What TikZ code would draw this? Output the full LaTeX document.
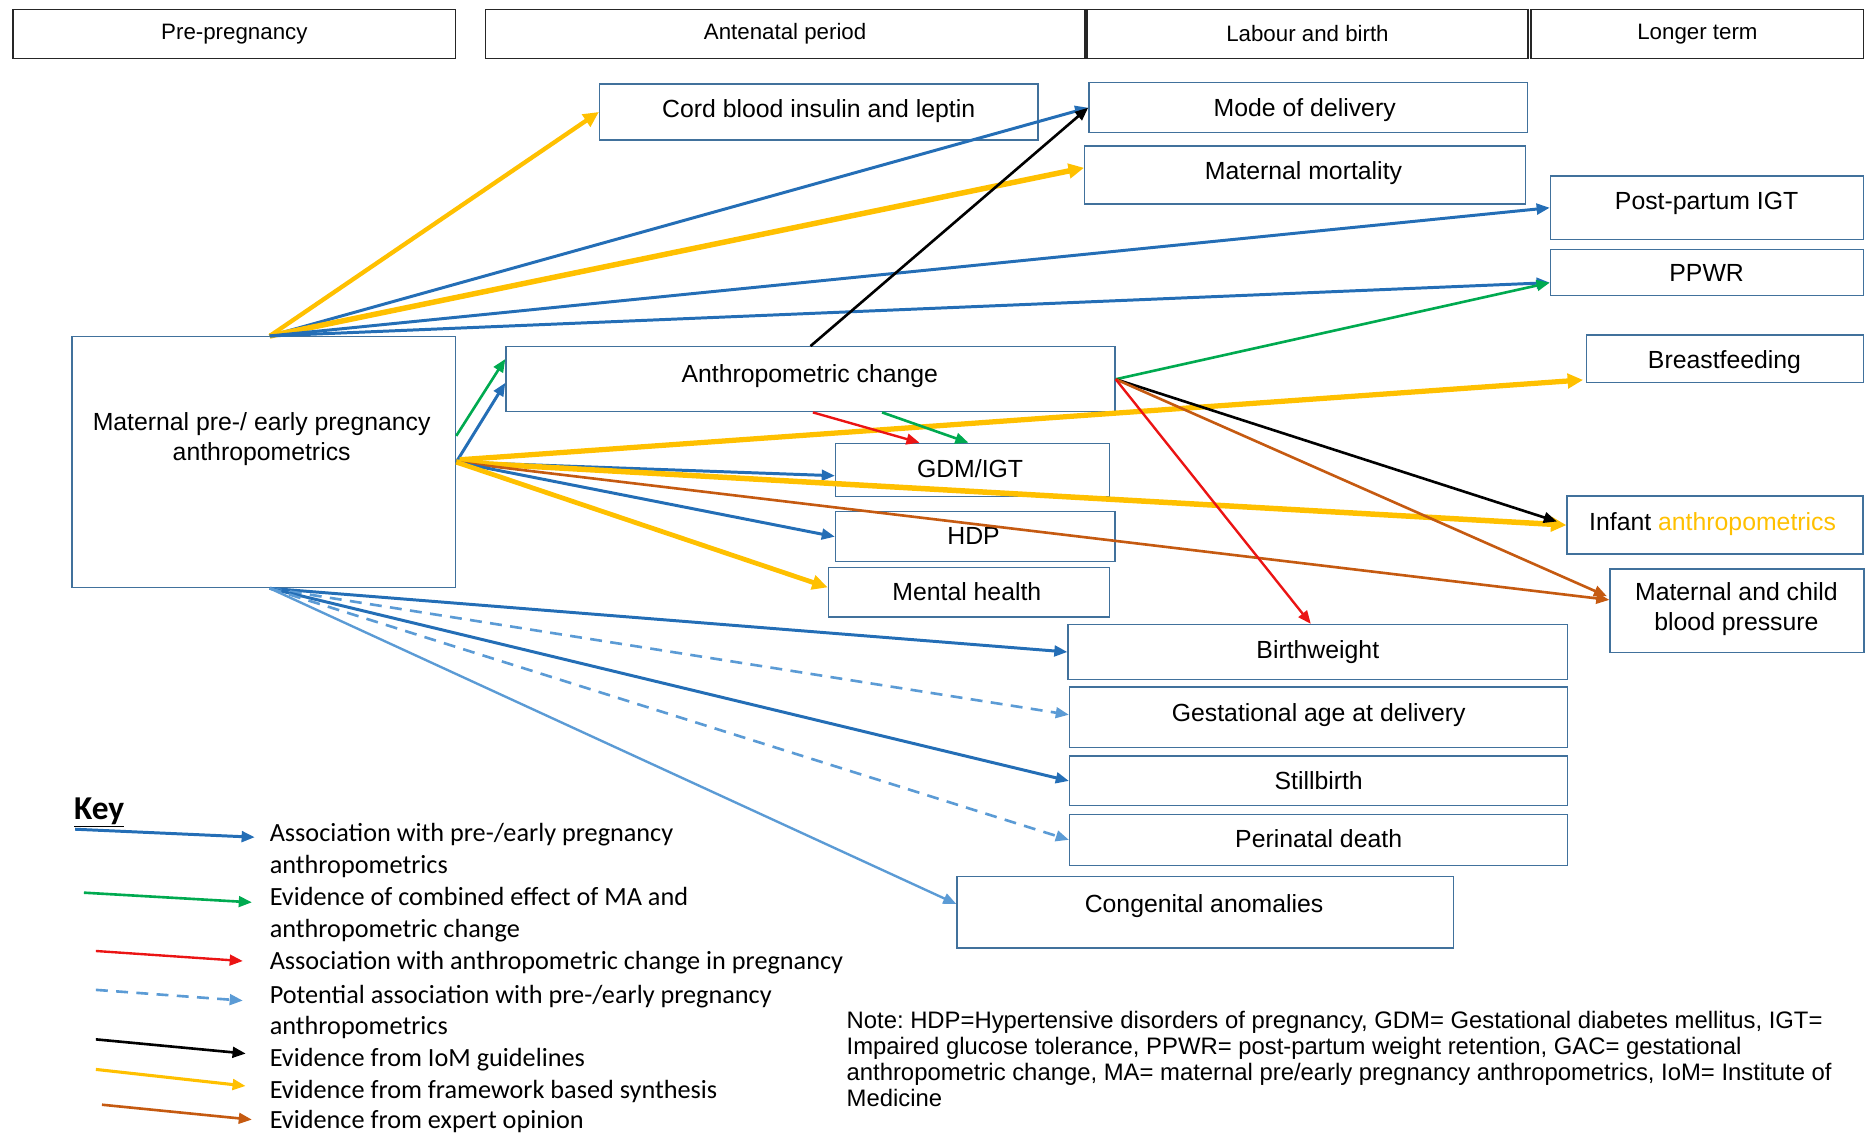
\documentclass[tikz,border=0pt]{standalone}
\usepackage{fontspec}
\setmainfont{Liberation Sans}
\newfontfamily\keyfont{Carlito}
\usetikzlibrary{arrows.meta,calc}
\frenchspacing

\definecolor{armblue}{RGB}{36,110,182}
\definecolor{lightblue}{RGB}{91,155,213}
\definecolor{gold}{RGB}{255,192,0}
\definecolor{combgreen}{RGB}{0,170,80}
\definecolor{gacred}{RGB}{235,20,20}
\definecolor{expbrown}{RGB}{197,90,17}
\definecolor{boxedge}{RGB}{65,113,156}

\tikzset{
  outcome/.style={draw=boxedge, line width=1.1pt, fill=white, inner sep=0pt},
  period/.style={draw=black!85, line width=1.4pt, inner sep=0pt,
    font=\fontsize{18.7}{22}\selectfont},
  boxtext/.style={font=\fontsize{20.8}{25}\selectfont, inner sep=0pt,
    text height=0.72em, text depth=0.2em, yshift=-5pt},
  boxtwo/.style={font=\fontsize{20.8}{25}\selectfont, inner sep=0pt, align=center, yshift=-2pt},
  keytext/.style={font=\keyfont\fontsize{22}{27}\selectfont, inner sep=0pt,
    anchor=west, text height=0.72em, text depth=0.2em, yshift=-4pt},
  arrowhd/.style={-{Triangle[length=11pt,width=9pt]}},
  assoc/.style={arrowhd, draw=armblue, line width=2.5pt},
  potential/.style={arrowhd, draw=lightblue, line width=2.2pt, dash pattern=on 10pt off 7pt},
  combined/.style={arrowhd, draw=combgreen, line width=2.2pt},
  gacassoc/.style={arrowhd, draw=gacred, line width=2pt},
  iom/.style={arrowhd, draw=black, line width=2.2pt},
  synth/.style={-{Triangle[length=13pt,width=12pt]}, draw=gold, line width=4pt},
  expert/.style={arrowhd, draw=expbrown, line width=2.2pt},
}

\begin{document}
\begin{tikzpicture}[x=1pt,y=-1pt]
\useasboundingbox (0,0) rectangle (1568,951);

% time periods
\node[period, minimum width=371pt, minimum height=41pt] (hpre) at (196.5,28.5) {Pre-pregnancy};
\node[period, minimum width=502.5pt, minimum height=41pt] (hant) at (658.3,28.5) {Antenatal period};
\node[period, minimum width=369.4pt, minimum height=41pt] (hlab) at (1096.3,28.5) {Labour and birth};
\node[period, minimum width=278.6pt, minimum height=41pt] (hlong) at (1423.3,28.5) {Longer term};

% exposure and outcome boxes
\node[outcome, minimum width=367.6pt, minimum height=47pt] (cord) at (686.5,93.9) {};
\node[outcome, minimum width=368pt, minimum height=42pt] (mode) at (1097,90.3) {};
\node[outcome, minimum width=369.5pt, minimum height=48.6pt] (mort) at (1094.3,146.7) {};
\node[outcome, minimum width=262.6pt, minimum height=53.1pt] (ppigt) at (1431.3,174.2) {};
\node[outcome, minimum width=262.6pt, minimum height=39pt] (ppwr) at (1431.3,228.5) {};
\node[outcome, minimum width=232.6pt, minimum height=40pt] (bf) at (1446.3,301) {};
\node[outcome, minimum width=321.6pt, minimum height=210.5pt] (ma) at (221.2,387.5) {};
\node[outcome, minimum width=510.7pt, minimum height=54.5pt] (ac) at (679.6,318) {};
\node[outcome, minimum width=229.8pt, minimum height=44.3pt] (gdm) at (815.5,393.9) {};
\node[outcome, minimum width=234.4pt, minimum height=42pt] (hdp) at (817.8,450) {};
\node[outcome, minimum width=235.9pt, minimum height=41.8pt] (mh) at (812.5,496.5) {};
\node[outcome, minimum width=248pt, minimum height=48.6pt] (inf) at (1438,440.3) {};
\node[outcome, minimum width=213pt, minimum height=70pt] (bp) at (1456.5,512) {};
\node[outcome, minimum width=419pt, minimum height=46.1pt] (bw) at (1105.1,546.7) {};
\node[outcome, minimum width=417.8pt, minimum height=50.7pt] (gest) at (1105.7,601.3) {};
\node[outcome, minimum width=417.8pt, minimum height=41.7pt] (still) at (1105.7,654.8) {};
\node[outcome, minimum width=417.8pt, minimum height=42.9pt] (peri) at (1105.7,704.2) {};
\node[outcome, minimum width=416.5pt, minimum height=60pt] (cong) at (1010.7,765) {};

% box labels
\node[boxtext] (tcord) at (686.5,91) {Cord blood insulin and leptin};
\node[boxtext] (tmode) at (1094,90) {Mode of delivery};
\node[boxtext] (tmort) at (1093,143) {Maternal mortality};
\node[boxtext] (tppigt) at (1431,168) {Post-partum IGT};
\node[boxtext] (tppwr) at (1431,228.6) {PPWR};
\node[boxtext] (tbf) at (1446,301.5) {Breastfeeding};
\node[boxtwo] (tma) at (219.4,366) {Maternal pre-/ early pregnancy\\anthropometrics};
\node[boxtext] (tac) at (679,313) {Anthropometric change};
\node[boxtext] (tgdm) at (813.4,392.7) {GDM/IGT};
\node[boxtext] (thdp) at (816.3,448.6) {HDP};
\node[boxtext] (tmh) at (810.7,496) {Mental health};
\node[boxtext] (tinf) at (1436,437.4) {Infant \textcolor{gold}{anthropometrics}};
\node[boxtwo] (tbp) at (1456,508.7) {Maternal and child\\blood pressure};
\node[boxtext] (tbw) at (1105,544.6) {Birthweight};
\node[boxtext] (tgest) at (1105.7,597.5) {Gestational age at delivery};
\node[boxtext] (tstill) at (1105.7,654.8) {Stillbirth};
\node[boxtext] (tperi) at (1105.7,703.4) {Perinatal death};
\node[boxtext] (tcong) at (1009.6,757.8) {Congenital anomalies};

% fan-out points on the exposure box
\coordinate (matop) at ($(ma.north)+(5,0)$);
\coordinate (mabot) at ($(ma.south)+(5,0)$);

% from the top of the exposure box
\draw[synth, line width=3.6pt] (matop) -- (cord.west);
\draw[assoc] (matop) -- (mode.west);
\draw[synth, line width=4.6pt] (matop) -- ($(mort.west)+(0,-6)$);
\draw[assoc] (matop) -- (ppigt.west);
\draw[assoc] (matop) -- ($(ppwr.west)+(0,8.5)$);

% from the right of the exposure box
\draw[combined] ($(ma.east)+(0,-22)$) -- ($(ac.west)+(0,-17)$);
\draw[assoc] (ma.east) -- ($(ac.west)+(0,3)$);
\draw[synth, line width=4.4pt] ($(ma.east)+(3,-2)$) -- ($(bf.south west)+(-2,-3)$);
\draw[assoc] (ma.east) -- ($(gdm.west)+(0,5)$);
\draw[synth, line width=4.6pt] (ma.east) -- (inf.west);
\draw[expert] (ma.east) -- ($(bp.west)+(0,-9)$);
\draw[assoc] (ma.east) -- (hdp.west);
\draw[synth] (ma.east) -- ($(mh.west)+(0,-4)$);

% from the bottom of the exposure box
\draw[assoc] (mabot) -- (bw.west);
\draw[potential] (mabot) -- ($(gest.west)+(0,-2)$);
\draw[assoc] (mabot) -- (still.west);
\draw[potential] (mabot) -- (peri.west);
\draw[arrowhd, draw=lightblue, line width=2pt] (mabot) -- ($(cong.west)+(0,-7)$);

% from anthropometric change
\draw[iom] (ac.north) -- (mode.west);
\draw[gacassoc] ($(ac.south)+(2,0)$) -- ($(gdm.north west)+(71,0)$);
\draw[combined] ($(ac.south)+(60,0)$) -- ($(gdm.north west)+(112,0)$);
\draw[combined] (ac.east) -- ($(ppwr.west)+(0,8.5)$);
\draw[iom] (ac.east) -- ($(inf.west)+(-8,-3)$);
\draw[expert] (ac.east) -- ($(bp.west)+(-2,-12)$);
\draw[gacassoc] (ac.east) -- ($(bw.north)+(-6,0)$);

% key
\node[font=\keyfont\bfseries\fontsize{28}{32}\selectfont, anchor=west, inner sep=0pt] (keyttl) at (62,681) {\underline{Key}};
\coordinate (k1a) at (63,695.3);   \coordinate (k1b) at (213.6,702);
\coordinate (k2a) at (70.4,748.5); \coordinate (k2b) at (211.2,756.6);
\coordinate (k3a) at (80.4,797.4); \coordinate (k3b) at (203.6,805.8);
\coordinate (k4a) at (80.4,830);   \coordinate (k4b) at (203.6,839);
\coordinate (k5a) at (80.4,871.5); \coordinate (k5b) at (206,883.4);
\coordinate (k6a) at (80.4,896.7); \coordinate (k6b) at (206,910.6);
\coordinate (k7a) at (85.5,926.3); \coordinate (k7b) at (211.2,938.8);
\draw[assoc] (k1a) -- (k1b);
\draw[combined] (k2a) -- (k2b);
\draw[gacassoc] (k3a) -- (k3b);
\draw[potential] (k4a) -- (k4b);
\draw[iom] (k5a) -- (k5b);
\draw[synth, line width=2.6pt, -{Triangle[length=11pt,width=9pt]}] (k6a) -- (k6b);
\draw[expert] (k7a) -- (k7b);

\node[keytext] (kt1) at (226,699) {Association with pre-/early pregnancy};
\node[keytext] (kt1b) at (226,725.7) {anthropometrics};
\node[keytext] (kt2) at (226,752.4) {Evidence of combined effect of MA and};
\node[keytext] (kt2b) at (226,779.7) {anthropometric change};
\node[keytext] (kt3) at (226,806.3) {Association with anthropometric change in pregnancy};
\node[keytext] (kt4) at (226,834.5) {Potential association with pre-/early pregnancy};
\node[keytext] (kt4b) at (226,861.2) {anthropometrics};
\node[keytext] (kt5) at (226,887.8) {Evidence from IoM guidelines};
\node[keytext] (kt6) at (226,914.5) {Evidence from framework based synthesis};
\node[keytext] (kt7) at (226,939.7) {Evidence from expert opinion};

% abbreviations
\node[font=\fontsize{20}{21.8}\selectfont, align=left, anchor=north west, inner sep=0pt] (note) at (709.7,848)
  {Note: HDP=Hypertensive disorders of pregnancy, GDM= Gestational diabetes mellitus, IGT=\\
   Impaired glucose tolerance, PPWR= post-partum weight retention, GAC= gestational\\
   anthropometric change, MA= maternal pre/early pregnancy anthropometrics, IoM= Institute of\\
   Medicine};
\end{tikzpicture}
\end{document}
